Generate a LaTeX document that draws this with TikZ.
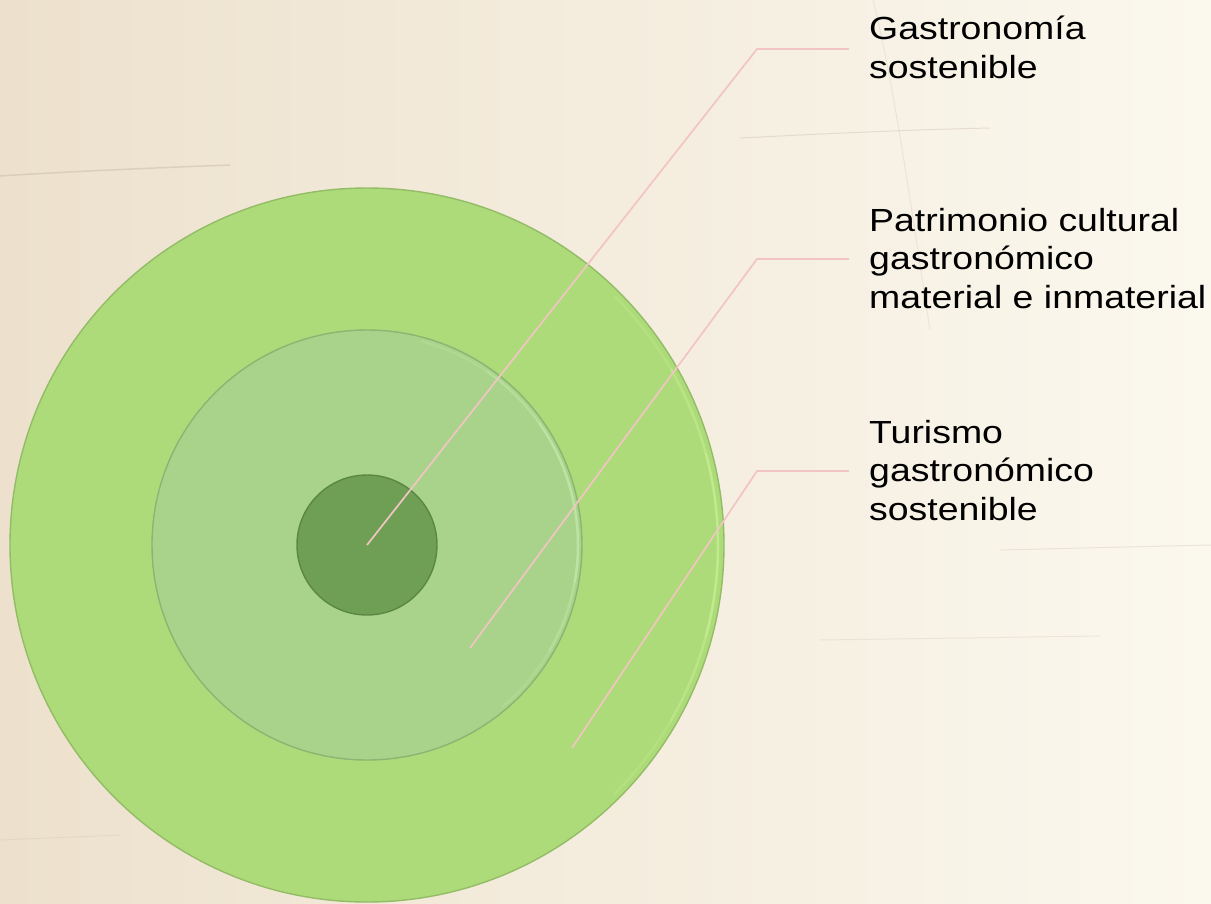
\documentclass[tikz,border=0pt]{standalone}
\usepackage{fontspec}
\setmainfont{Liberation Sans}
\newfontfamily\labfont[FakeStretch=1.17]{Liberation Sans}
\definecolor{bgL}{HTML}{EDE1CD}
\definecolor{bgR}{HTML}{FBF8EE}
\definecolor{grain}{HTML}{C9BBAA}
\definecolor{outerG}{HTML}{AEDB79}
\definecolor{outerE}{HTML}{93BC66}
\definecolor{outerH}{HTML}{C6F096}
\definecolor{midG}{HTML}{A9D38A}
\definecolor{midE}{HTML}{8CB472}
\definecolor{midH}{HTML}{C8ECB0}
\definecolor{innerG}{HTML}{6F9F55}
\definecolor{innerE}{HTML}{5A8744}
\definecolor{leadpink}{HTML}{F2C4C4}
\begin{document}
\begin{tikzpicture}[x=1pt,y=-1pt,
  ring/.style={circle, draw=#1, line width=1.4pt, inner sep=0pt},
  leader/.style={draw=leadpink, line width=1.7pt},
  glow/.style={line width=2.5pt, line cap=round},
  labtext/.style={anchor=north west, inner sep=0pt, align=left,
    font=\labfont\fontsize{32}{38.5}\selectfont, text=black}]
\fill[left color=bgL, right color=bgR] (0,0) rectangle (1211,903);
\useasboundingbox (0,0) rectangle (1211,903);
% faint wood grain
\draw[grain, line width=1.5pt, opacity=0.5] (0,176) .. controls (60,172) and (150,168) .. (230,165);
\draw[grain, line width=1pt, opacity=0.4] (740,138) .. controls (820,134) and (900,130) .. (990,128);
\draw[grain, line width=1pt, opacity=0.25] (873,0) .. controls (895,90) and (910,200) .. (930,330);
\draw[grain, line width=1pt, opacity=0.3] (1000,550) -- (1211,545);
\draw[grain, line width=1pt, opacity=0.25] (820,640) -- (1100,636);
\draw[grain, line width=1pt, opacity=0.25] (0,840) -- (120,835);
% circles
\node[ring=outerE, fill=outerG, minimum size=714pt] (outer) at (367,545) {};
\foreach \a/\b/\o in {-45/-30/0.25, -30/-15/0.5, -15/15/0.75, 15/30/0.5, 30/45/0.25}
  \draw[outerH, glow, opacity=\o] (outer.center) ++(\a:351) arc[start angle=\a, end angle=\b, radius=351];
\node[ring=midE, fill=midG, minimum size=430pt] (middle) at (367,545) {};
\foreach \a/\b/\o in {-75/-55/0.2, -55/-35/0.45, -35/10/0.65, 10/30/0.4, 30/50/0.2}
  \draw[midH, glow, opacity=\o] (middle.center) ++(\a:211) arc[start angle=\a, end angle=\b, radius=211];
\node[ring=innerE, fill=innerG, minimum size=140pt] (inner) at (367,545) {};
% leader points
\coordinate (p1) at (367,545);
\coordinate (p2) at (470,648);
\coordinate (p3) at (572,748);
\coordinate (b1) at (757,49);
\coordinate (b2) at (757,259);
\coordinate (b3) at (757,471);
\coordinate (e1) at (849,49);
\coordinate (e2) at (849,259);
\coordinate (e3) at (849,471);
\draw[leader] (p1) -- (b1) -- (e1);
\draw[leader] (p2) -- (b2) -- (e2);
\draw[leader] (p3) -- (b3) -- (e3);
% labels
\node[labtext] (t1) at (869,16) {Gastronomía\\sostenible};
\node[labtext] (t2) at (869,208) {Patrimonio cultural\\gastronómico\\material e inmaterial};
\node[labtext] (t3) at (869,420) {Turismo\\gastronómico\\sostenible};
\end{tikzpicture}
\end{document}
